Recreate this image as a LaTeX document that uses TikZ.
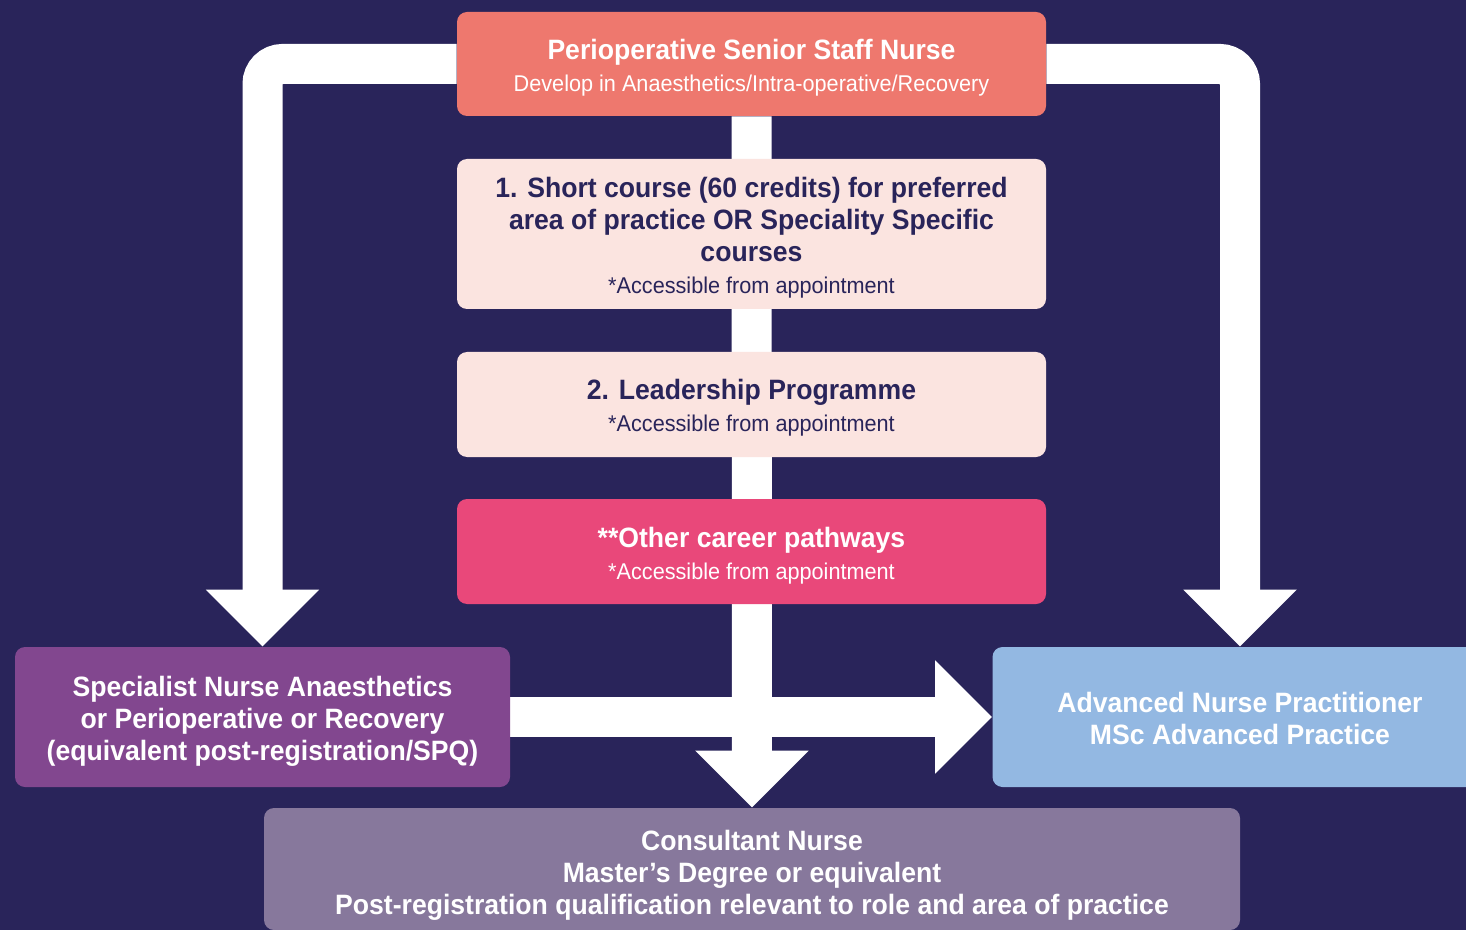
\documentclass[tikz,border=0pt]{standalone}
\usepackage{fontspec}
\setmainfont{Liberation Sans}[FakeStretch=0.95]
\usepackage{tikz}
\usetikzlibrary{positioning}
\usetikzlibrary{arrows.meta}

\definecolor{navy}{HTML}{29245A}
\definecolor{salmon}{HTML}{EE786E}
\definecolor{blush}{HTML}{FBE4E0}
\definecolor{rosepink}{HTML}{E9487A}
\definecolor{plum}{HTML}{82478F}
\definecolor{skyblue}{HTML}{93B8E2}
\definecolor{mauve}{HTML}{87789C}

\pgfdeclarelayer{bg}
\pgfdeclarelayer{links}
\pgfsetlayers{bg,links,main}

\newcommand{\subline}[1]{{\mdseries\fontsize{11.4}{16}\selectfont #1}}

\begin{document}
\begin{tikzpicture}
 [ x=0.5pt, y=-0.5pt
 , box/.style={rectangle, rounded corners=5pt, inner sep=0pt}
 , wide/.style={box, minimum width=294.5pt}
 , side/.style={box, minimum width=247.5pt, minimum height=70pt}
 , txt/.style={align=center, inner sep=0pt, font=\fontsize{14}{16}\selectfont\bfseries}
 , band/.style={draw=white, line width=20pt, -{Triangle[width=55pt, length=28.5pt]}}
 ]
  \useasboundingbox (0,0) rectangle (1466,930);
  \begin{pgfonlayer}{bg}
    \fill[navy] (0,0) rectangle (1466,930);
  \end{pgfonlayer}

  % central column
  \node [wide, fill=salmon, minimum height=52pt] (senior) at (751.5,64) {};
  \node [txt, text=white] (senior-t) at ([yshift=-2pt]senior.center)
    {Perioperative Senior Staff Nurse\\
     \subline{Develop in Anaesthetics/Intra-operative/Recovery}};

  \node [wide, fill=blush, minimum height=75pt] (shortcourse) at (751.5,234) {};
  \node [txt, text=navy] (shortcourse-t) at ([yshift=-2pt]shortcourse.center)
    {1. Short course (60 credits) for preferred\\
     area of practice OR Speciality Specific\\
     courses\\
     \subline{*Accessible from appointment}};

  \node [wide, fill=blush, minimum height=52.5pt] (leadership) at (751.5,404.5) {};
  \node [txt, text=navy] (leadership-t) at ([yshift=-1.5pt]leadership.center)
    {2. Leadership Programme\\
     \subline{*Accessible from appointment}};

  \node [wide, fill=rosepink, minimum height=52.5pt] (pathways) at (751.5,551.5) {};
  \node [txt, text=white] (pathways-t) at ([yshift=-2pt]pathways.center)
    {**Other career pathways\\
     \subline{*Accessible from appointment}};

  % outcomes
  \node [side, fill=plum] (specialist) at (262.5,717) {};
  \node [txt, text=white] (specialist-t) at ([yshift=-2pt]specialist.center)
    {Specialist Nurse Anaesthetics\\
     or Perioperative or Recovery\\
     (equivalent post-registration/SPQ)};

  \node [side, fill=skyblue] (advanced) at (1240,717) {};
  \node [txt, text=white] (advanced-t) at ([yshift=-0.5pt]advanced.center)
    {Advanced Nurse Practitioner\\
     MSc Advanced Practice};

  \node [box, fill=mauve, minimum width=488pt, minimum height=61pt] (consultant) at (752,869) {};
  \node [txt, text=white] (consultant-t) at ([yshift=-3pt]consultant.center)
    {Consultant Nurse\\
     Master’s Degree or equivalent\\
     Post-registration qualification relevant to role and area of practice};

  \begin{pgfonlayer}{links}
    \draw [band] (senior.south) -- (consultant.north);
    \draw [band, rounded corners=10pt] (senior.west) -| (specialist.north);
    \draw [band, rounded corners=10pt] (senior.east) -| (advanced.north);
    \draw [band] (specialist.east) -- (advanced.west);
  \end{pgfonlayer}
\end{tikzpicture}
\end{document}
